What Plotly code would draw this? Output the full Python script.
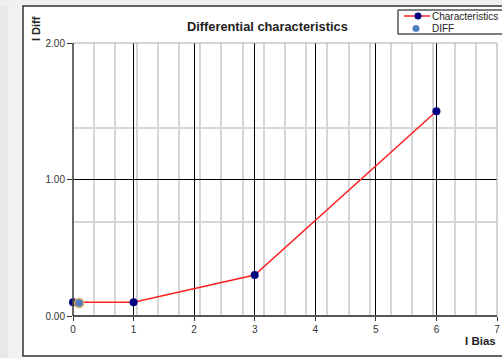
import plotly.graph_objects as go

# Data
char_x = [0, 1, 3, 6]
char_y = [0.1, 0.1, 0.3, 1.5]
diff_x = [0.1]
diff_y = [0.095]
x_ticks = [0, 1, 2, 3, 4, 5, 6, 7]
y_ticks = [0, 1, 2]
legend_names = ["Characteristics", "DIFF"]

W, H = 502, 358
L, R, T, B = 73, 5, 43, 42
pw = W - L - R
ph = H - T - B

def px(x):
    return (x - L) / pw

def py(y):
    return (H - B - y) / ph

NAVY = "#000080"
RED = "#ff2020"
DIFF_FILL = "#4f7fc0"
DIFF_LINE = "#e0b060"

fig = go.Figure()
fig.add_trace(go.Scatter(
    x=char_x, y=char_y, name=legend_names[0], mode="lines+markers",
    line=dict(color=RED, width=1.5),
    marker=dict(color=NAVY, size=8),
    cliponaxis=False, showlegend=False,
))
fig.add_trace(go.Scatter(
    x=diff_x, y=diff_y, name=legend_names[1], mode="markers",
    marker=dict(color=DIFF_FILL, size=9, line=dict(color=DIFF_LINE, width=1.5)),
    cliponaxis=False, showlegend=False,
))

font = "Liberation Sans, Arial, sans-serif"

fig.update_layout(
    width=W, height=H,
    margin=dict(l=L, r=R, t=T, b=B, pad=0, autoexpand=False),
    paper_bgcolor="white", plot_bgcolor="white",
    font=dict(family=font, size=10, color="#333"),
    showlegend=False,
    xaxis=dict(
        range=[0, 7], tickvals=x_ticks, ticktext=[str(v) for v in x_ticks],
        showgrid=True, gridcolor="black", gridwidth=1,
        zeroline=False, showline=False, automargin=False,
        ticks="outside", ticklen=4, tickcolor="#333",
        tickfont=dict(size=10, color="#333"),
        minor=dict(dtick=0.35, tick0=0, showgrid=True, gridcolor="#d6d6d6", gridwidth=1.5, ticks=""),
    ),
    yaxis=dict(
        range=[0, 2], tickvals=y_ticks, ticktext=["%.2f" % v for v in y_ticks],
        showgrid=True, gridcolor="black", gridwidth=1,
        zeroline=False, showline=False, automargin=False,
        ticks="outside", ticklen=5, tickcolor="#333",
        tickfont=dict(size=10, color="#333"),
        minor=dict(dtick=0.69, tick0=0, showgrid=True, gridcolor="#d6d6d6", gridwidth=1.5, ticks=""),
    ),
)

def circ(cx, cy, r, fill, line_color, lw):
    return dict(type="circle", xref="paper", yref="paper",
                x0=px(cx - r), x1=px(cx + r), y0=py(cy + r), y1=py(cy - r),
                fillcolor=fill, line=dict(color=line_color, width=lw))

shapes = [
    # outer window background strips
    dict(type="rect", xref="paper", yref="paper", x0=px(0), x1=px(23), y0=py(H), y1=py(0),
         fillcolor="#f2f2f2", line=dict(width=0), layer="below"),
    dict(type="rect", xref="paper", yref="paper", x0=px(0), x1=px(8), y0=py(H), y1=py(0),
         fillcolor="#e8e8e8", line=dict(width=0), layer="below"),
    dict(type="rect", xref="paper", yref="paper", x0=px(0), x1=px(W), y0=py(6), y1=py(0),
         fillcolor="#f0f0f0", line=dict(width=0), layer="below"),
    # outer frame
    dict(type="rect", xref="paper", yref="paper", x0=px(23), x1=px(W + 5), y0=py(356), y1=py(6),
         fillcolor="rgba(0,0,0,0)", line=dict(color="#333", width=1.5)),
    # plot frame
    dict(type="rect", xref="paper", yref="paper", x0=0, x1=1, y0=0, y1=1,
         fillcolor="rgba(0,0,0,0)", line=dict(color="#aaaaaa", width=1)),
    dict(type="line", xref="paper", yref="paper", x0=0, x1=1, y0=0, y1=0,
         line=dict(color="#555", width=2)),
    dict(type="line", xref="paper", yref="paper", x0=0, x1=0, y0=0, y1=1,
         line=dict(color="#222", width=1.2)),
    # legend box
    dict(type="rect", xref="paper", yref="paper", x0=px(398), x1=px(W + 5), y0=py(34), y1=py(10),
         fillcolor="white", line=dict(color="black", width=1)),
    dict(type="line", xref="paper", yref="paper", x0=px(404), x1=px(430), y0=py(16), y1=py(16),
         line=dict(color=RED, width=1.5)),
    circ(418, 16, 3.3, NAVY, NAVY, 0.5),
    circ(416, 28.5, 3.3, DIFF_FILL, DIFF_FILL, 0.5),
]
fig.update_layout(shapes=shapes)

def label(text, x, y, size, xanchor="center", angle=0):
    fig.add_annotation(text=text, xref="paper", yref="paper", x=px(x), y=py(y),
                       xanchor=xanchor, yanchor="middle", textangle=angle, showarrow=False,
                       font=dict(size=size, color="#222", family=font))

label(legend_names[0], 430, 16.5, 10, xanchor="left")
label(legend_names[1], 430, 28.5, 10, xanchor="left")
label("<b>Differential characteristics</b>", 267, 26, 12.8)
label("<b>I Diff</b>", 36, 29, 11, angle=-90)
label("<b>I Bias</b>", 498, 341, 11.5, xanchor="right")

fig.write_html("out.html", config={"displayModeBar": False},
               post_script="document.body.style.margin='0';document.body.style.overflow='hidden';")
